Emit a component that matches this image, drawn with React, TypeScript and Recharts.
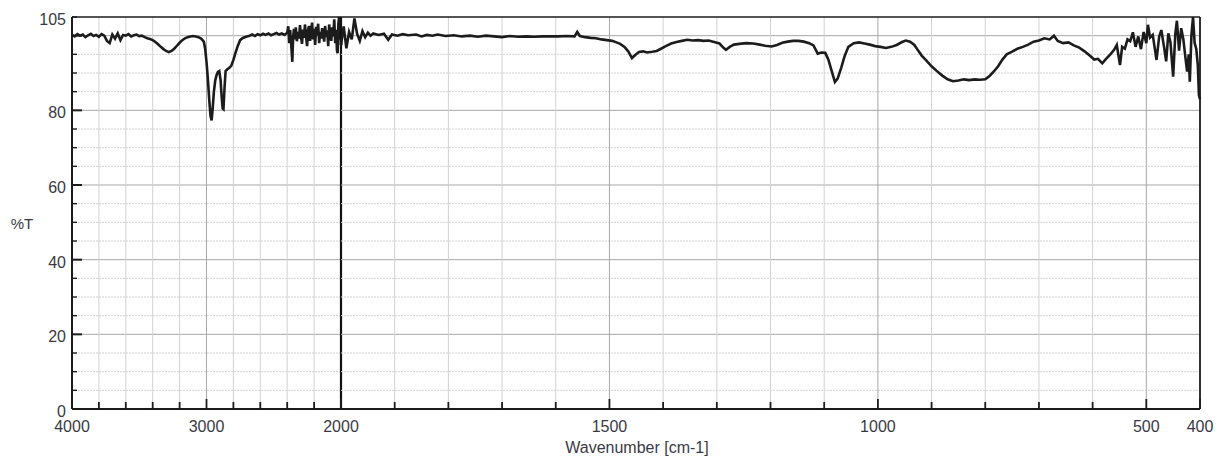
import { LineChart, Line, XAxis, YAxis, ReferenceLine } from "recharts";

// [wavenumber, %T], 4000 -> 2000 cm-1 (compressed part of the axis)
const highRange: [number, number][] = [
  [4000, 100.2], [3980, 99.8], [3960, 100.4], [3940, 100.0], [3920, 100.3],
  [3900, 99.6], [3880, 100.1], [3860, 100.5], [3840, 99.9], [3820, 100.2],
  [3800, 99.7], [3780, 100.4], [3760, 100.0], [3740, 98.6], [3720, 98.0],
  [3700, 100.3], [3680, 99.2], [3660, 100.6], [3640, 98.8], [3620, 100.2],
  [3600, 100.0], [3580, 100.4], [3560, 99.8], [3540, 100.1], [3520, 100.3],
  [3500, 99.9], [3480, 100.0], [3460, 99.6], [3440, 99.3], [3420, 99.1],
  [3400, 98.8], [3380, 98.3], [3360, 97.7], [3340, 97.0], [3320, 96.4],
  [3300, 95.9], [3280, 95.6], [3260, 95.9], [3240, 96.5], [3220, 97.3],
  [3200, 98.1], [3180, 98.8], [3160, 99.3], [3140, 99.6], [3120, 99.8],
  [3100, 99.9], [3080, 99.8], [3060, 99.6], [3040, 99.2], [3020, 98.4],
  [3010, 96.5], [3000, 93.0], [2990, 88.5], [2980, 83.0], [2970, 78.5],
  [2962, 77.3], [2955, 80.0], [2945, 85.0], [2935, 88.0], [2925, 89.5],
  [2915, 90.3], [2905, 90.5], [2895, 88.0], [2888, 84.0], [2880, 80.5],
  [2874, 80.3], [2866, 86.0], [2858, 90.5], [2845, 91.0], [2830, 91.4],
  [2815, 92.0], [2800, 93.5], [2785, 95.3], [2770, 97.0], [2750, 98.8],
  [2730, 99.4], [2700, 99.8], [2680, 100.0], [2660, 100.3], [2640, 99.9],
  [2620, 100.4], [2600, 100.1], [2580, 100.5], [2560, 100.2], [2540, 100.6],
  [2520, 100.1], [2500, 100.4], [2480, 100.7], [2460, 100.3], [2440, 100.6],
  [2420, 100.2], [2400, 100.8], [2392, 102.5], [2385, 98.0], [2378, 101.5],
  [2370, 97.5], [2362, 93.0], [2356, 99.5], [2350, 101.8], [2343, 99.0],
  [2336, 102.2], [2328, 98.5], [2320, 101.0], [2312, 99.2], [2305, 102.8],
  [2298, 100.0], [2290, 97.8], [2282, 101.6], [2275, 99.4], [2268, 103.0],
  [2260, 99.8], [2252, 97.2], [2245, 101.5], [2238, 102.6], [2230, 98.6],
  [2222, 101.2], [2215, 103.5], [2208, 99.0], [2200, 101.8], [2192, 97.5],
  [2185, 102.4], [2178, 100.0], [2170, 103.2], [2162, 98.0], [2155, 101.0],
  [2148, 99.2], [2140, 102.0], [2132, 100.4], [2125, 98.4], [2118, 102.6],
  [2110, 99.6], [2102, 101.4], [2095, 97.2], [2088, 103.0], [2080, 100.2],
  [2072, 98.6], [2065, 102.2], [2058, 99.8], [2050, 104.4], [2043, 98.0],
  [2036, 101.6], [2030, 96.0], [2025, 95.3], [2020, 103.0], [2014, 105.0],
  [2008, 99.0], [2003, 101.8], [2000, 97.5],
];

// 2000 -> 400 cm-1 (expanded part of the axis)
const lowRange: [number, number][] = [
  [2000, 97.5], [1995, 102.5], [1990, 96.6], [1985, 101.0], [1980, 99.0],
  [1975, 104.6], [1970, 100.5], [1965, 98.6], [1960, 101.2], [1955, 99.6],
  [1950, 100.8], [1945, 100.0], [1940, 100.6], [1930, 100.2], [1920, 100.5],
  [1912, 98.9], [1905, 100.3], [1895, 100.0], [1885, 100.4], [1875, 100.1],
  [1860, 100.3], [1850, 99.8], [1840, 100.2], [1830, 100.0], [1820, 100.3],
  [1805, 99.9], [1790, 100.1], [1775, 99.8], [1760, 100.0], [1745, 99.7],
  [1730, 100.0], [1715, 99.8], [1700, 99.6], [1685, 99.9], [1670, 99.7],
  [1655, 99.8], [1640, 99.7], [1625, 99.8], [1610, 99.8], [1595, 99.8],
  [1580, 99.9], [1565, 99.8], [1560, 101.0], [1555, 99.9], [1545, 99.6],
  [1535, 99.4], [1525, 99.3], [1515, 99.0], [1505, 98.8], [1495, 98.6],
  [1487, 98.2], [1480, 97.8], [1472, 97.0], [1465, 95.8], [1458, 94.0],
  [1452, 94.8], [1445, 95.6], [1437, 95.8], [1430, 95.5], [1420, 95.7],
  [1412, 95.9], [1404, 96.5], [1395, 97.2], [1385, 97.9], [1375, 98.3],
  [1365, 98.6], [1355, 98.9], [1345, 98.7], [1335, 98.8], [1325, 98.6],
  [1315, 98.7], [1305, 98.3], [1295, 97.9], [1288, 96.8], [1283, 96.2],
  [1276, 97.0], [1268, 97.6], [1258, 97.8], [1245, 98.0], [1232, 97.9],
  [1220, 97.6], [1210, 97.3], [1198, 97.1], [1188, 97.5], [1178, 98.1],
  [1168, 98.4], [1158, 98.6], [1148, 98.6], [1138, 98.4], [1128, 98.0],
  [1120, 97.4], [1112, 95.2], [1105, 95.5], [1098, 95.4], [1092, 93.5],
  [1086, 90.5], [1080, 87.6], [1075, 88.5], [1068, 91.5], [1062, 94.5],
  [1055, 97.0], [1045, 98.0], [1035, 98.2], [1025, 97.9], [1015, 97.6],
  [1005, 97.2], [995, 97.0], [985, 96.7], [975, 97.0], [965, 97.5],
  [955, 98.3], [948, 98.7], [940, 98.4], [932, 97.5], [925, 96.0],
  [918, 94.6], [910, 93.4], [900, 91.8], [890, 90.5], [880, 89.3],
  [870, 88.3], [860, 87.8], [850, 88.0], [840, 88.3], [830, 88.1],
  [820, 88.3], [810, 88.2], [800, 88.3], [792, 89.2], [784, 90.4],
  [776, 91.8], [768, 93.6], [760, 95.0], [750, 95.7], [740, 96.5],
  [730, 97.0], [720, 97.6], [710, 98.4], [700, 98.7], [690, 99.3],
  [680, 99.0], [672, 100.0], [665, 98.6], [655, 98.0], [645, 98.2],
  [635, 97.4], [625, 96.8], [615, 95.8], [605, 94.6], [597, 93.6],
  [590, 93.8], [582, 92.6], [575, 93.8], [567, 95.0], [560, 96.2],
  [555, 97.5], [549, 92.1], [545, 97.0], [540, 96.5], [535, 99.0],
  [530, 98.5], [525, 100.9], [520, 97.0], [515, 99.8], [510, 96.4],
  [505, 101.0], [500, 98.0], [497, 102.9], [493, 99.5], [488, 100.2],
  [481, 93.5], [476, 99.8], [472, 101.5], [467, 97.0], [463, 93.1],
  [459, 100.6], [455, 98.2], [450, 89.0], [446, 100.4], [443, 104.0],
  [439, 96.0], [435, 102.0], [431, 99.0], [427, 94.0], [424, 90.4],
  [421, 95.0], [419, 87.7], [416, 100.0], [413, 105.0], [410, 98.0],
  [407, 96.5], [404, 92.0], [402, 84.0], [400, 83.0],
];

const yTicks = [0, 5, 10, 15, 20, 25, 30, 35, 40, 45, 50, 55, 60, 65, 70, 75, 80, 85, 90, 95, 100, 105];
const yLabels = [0, 20, 40, 60, 80, 105];
const highTicks = [4000, 3800, 3600, 3400, 3200, 3000, 2800, 2600, 2400, 2200, 2000];
const lowTicks = [1900, 1800, 1700, 1600, 1500, 1400, 1300, 1200, 1100, 1000, 900, 800, 700, 600, 500, 400];
const xLabels = [4000, 3000, 2000, 1500, 1000, 500, 400];
const majorX = [3000, 1500, 1000, 500];

const W = 1218;
const H = 458;
const FONT = "'Liberation Sans', Arial, sans-serif";
const INK = "#1c1c1c";
const TEXT = "#3a3a44";
const MINOR = "#d2d2d2";
const MAJOR = "#a8a8a8";

const highData = highRange.map(([w, t]) => ({ w, t }));
const lowData = lowRange.map(([w, t]) => ({ w, t }));

function XTick({ x, y, payload }: any) {
  const v = payload.value;
  const labeled = xLabels.includes(v);
  return (
    <g>
      <line x1={x} x2={x} y1={y} y2={y - (labeled ? 10 : 7)} stroke={INK} strokeWidth={1.8} />
      {labeled && (
        <text x={x} y={y + 23} textAnchor="middle" fontSize={16} fontFamily={FONT} fill={TEXT}>
          {v}
        </text>
      )}
    </g>
  );
}

function YTick({ x, y, payload }: any) {
  const v = payload.value;
  const major = v % 20 === 0;
  return (
    <g>
      <line x1={x} x2={x + (major ? 10 : 5)} y1={y} y2={y} stroke={INK} strokeWidth={major ? 2 : 1.4} />
      {yLabels.includes(v) && (
        <text x={x - 6} y={y + 8} textAnchor="end" fontSize={16} fontFamily={FONT} fill={TEXT}>
          {v}
        </text>
      )}
    </g>
  );
}

function hGrid() {
  return yTicks
    .filter((v) => v > 0 && v < 105)
    .map((v) => (
      <ReferenceLine
        key={`h${v}`}
        y={v}
        stroke={v % 20 === 0 ? MAJOR : MINOR}
        strokeDasharray={v % 20 === 0 ? undefined : "2 1"}
        strokeWidth={1}
      />
    ));
}

function vGrid(ticks: number[]) {
  return ticks.map((v) => (
    <ReferenceLine
      key={`v${v}`}
      x={v}
      stroke={majorX.includes(v) ? MAJOR : MINOR}
      strokeWidth={1}
    />
  ));
}

export default function App() {
  const layer = { position: "absolute" as const, left: 0, top: 0 };
  return (
    <div style={{ position: "absolute", left: 0, top: 0, width: W, height: H, background: "#fff" }}>
      <div style={layer}>
        <LineChart width={W} height={H} data={highData} margin={{ top: 17, right: 877, bottom: 0, left: 0 }}>
          <XAxis
            dataKey="w"
            type="number"
            domain={[2000, 4000]}
            reversed
            ticks={highTicks}
            interval={0}
            height={49}
            tickSize={0}
            tickMargin={0}
            tickLine={false}
            tick={<XTick />}
            axisLine={{ stroke: INK, strokeWidth: 2 }}
          />
          <YAxis
            type="number"
            domain={[0, 105]}
            ticks={yTicks}
            interval={0}
            width={72}
            tickSize={0}
            tickMargin={0}
            tickLine={false}
            tick={<YTick />}
            axisLine={{ stroke: INK, strokeWidth: 2 }}
          />
          {hGrid()}
          {vGrid(highTicks.filter((v) => v !== 4000 && v !== 2000))}
          <ReferenceLine y={105} stroke={INK} strokeWidth={1.6} />
          <Line dataKey="t" stroke={INK} strokeWidth={2.6} dot={false} isAnimationActive={false} type="linear" />
          <ReferenceLine x={2000} stroke="#111" strokeWidth={2.2} />
        </LineChart>
      </div>
      <div style={layer}>
        <LineChart width={W} height={H} data={lowData} margin={{ top: 17, right: 18, bottom: 0, left: 341 }}>
          <XAxis
            dataKey="w"
            type="number"
            domain={[400, 2000]}
            reversed
            ticks={lowTicks}
            interval={0}
            height={49}
            tickSize={0}
            tickMargin={0}
            tickLine={false}
            tick={<XTick />}
            axisLine={{ stroke: INK, strokeWidth: 2 }}
          />
          <YAxis type="number" domain={[0, 105]} hide />
          {hGrid()}
          {vGrid(lowTicks.filter((v) => v !== 400))}
          <ReferenceLine y={105} stroke={INK} strokeWidth={1.6} />
          <ReferenceLine x={400} stroke={INK} strokeWidth={1.8} />
          <Line dataKey="t" stroke={INK} strokeWidth={2.6} dot={false} isAnimationActive={false} type="linear" />
        </LineChart>
      </div>
      <svg width={W} height={H} style={{ ...layer, pointerEvents: "none" }}>
        <text x={22} y={229} textAnchor="middle" fontSize={15} fontFamily={FONT} fill={TEXT}>
          %T
        </text>
        <text x={637} y={453} textAnchor="middle" fontSize={16} fontFamily={FONT} fill={TEXT}>
          Wavenumber [cm-1]
        </text>
      </svg>
    </div>
  );
}
